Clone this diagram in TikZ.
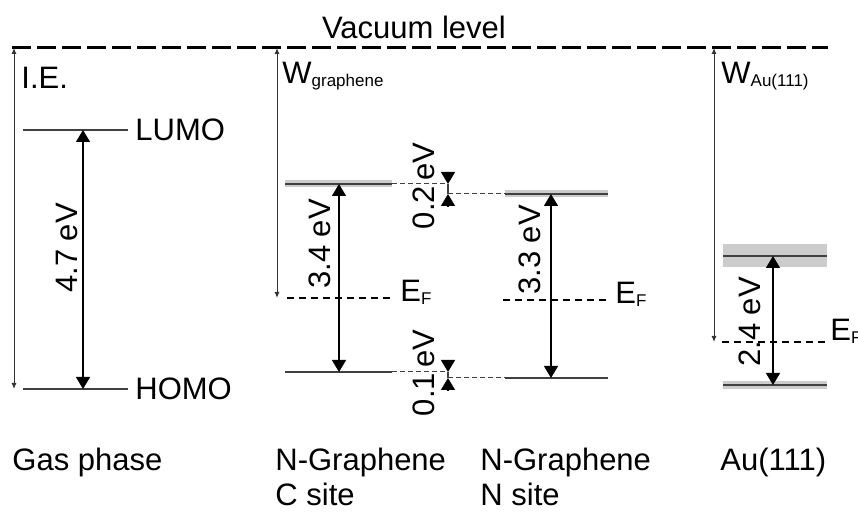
\documentclass[tikz,border=0pt]{standalone}
\usepackage{fontspec}
\setmainfont{Liberation Sans}
\usetikzlibrary{arrows.meta,positioning}
\newcommand{\lowtxt}[1]{\raisebox{-1.5pt}{\fontsize{8.5}{10}\selectfont #1}}

\begin{document}
\begin{tikzpicture}[x=0.5pt,y=-0.5pt,
  lab/.style={font=\fontsize{15.5}{18}\selectfont,inner sep=0pt,anchor=base west},
  rlab/.style={font=\fontsize{15.5}{18}\selectfont,inner sep=0pt,rotate=90},
  lvl/.style={black!75,line width=0.65pt},
  band/.style={black!20,line width=#1},
  fermi/.style={line width=1.3pt,dash pattern=on 3.5pt off 2.5pt},
  ext/.style={black!75,line width=0.5pt,dash pattern=on 2.5pt off 1.5pt},
  gap/.style={{Triangle[length=6pt,width=7pt]}-{Triangle[length=6pt,width=7pt]},line width=0.6pt},
  tipin/.style={-{Triangle[length=6pt,width=7pt]},line width=0.6pt},
  wf/.style={{Latex[length=3pt,width=2.5pt]}-{Latex[length=3pt,width=2.5pt]},black!80,line width=0.5pt}]
\useasboundingbox (0,0) rectangle (858,512);

% vacuum level
\coordinate (vacL) at (12,48); \coordinate (vacR) at (828,48);
\draw[line width=1.5pt,dash pattern=on 9.5pt off 3pt] (vacL) -- (vacR);
\node[lab,anchor=base] (vac) at (414,39) {Vacuum level};

% gas phase
\coordinate (lumoA) at (23,130); \coordinate (lumoB) at (128,130);
\coordinate (homoA) at (23,389); \coordinate (homoB) at (128,389);
\draw[lvl] (lumoA) -- (lumoB); \draw[lvl] (homoA) -- (homoB);
\node[lab] (lumo) at (135,141) {LUMO}; \node[lab] (homo) at (135,400) {HOMO};
\coordinate (gasT) at (83,130); \coordinate (gasB) at (83,389);
\draw[gap] (gasT) -- (gasB); \node[rlab] (gasgap) at (67,248) {4.7 eV};
\coordinate (ieT) at (14,48); \coordinate (ieB) at (14,389);
\draw[wf] (ieT) -- (ieB); \node[lab] (ie) at (21,89) {I.E.};

% N-graphene, C site
\coordinate (clA) at (285,184); \coordinate (clB) at (392,184); \coordinate (clC) at (448,184);
\coordinate (chA) at (285,372); \coordinate (chB) at (392,372); \coordinate (chC) at (448,372);
\coordinate (cfA) at (287,298); \coordinate (cfB) at (390,298);
\draw[band=3.5pt] (clA) -- (clB); \draw[lvl] (clA) -- (clB); \draw[ext] (clB) -- (clC);
\draw[lvl] (chA) -- (chB); \draw[ext] (chB) -- (chC);
\draw[fermi] (cfA) -- (cfB); \node[lab] (cef) at (400,302) {E\lowtxt{F}};
\coordinate (cgT) at (339,184); \coordinate (cgB) at (339,372);
\draw[gap] (cgT) -- (cgB); \node[rlab] (cgap) at (320,244) {3.4 eV};
\coordinate (wgT) at (277,48); \coordinate (wgB) at (277,298);
\draw[wf] (wgT) -- (wgB); \node[lab] (wg) at (282,84) {W\lowtxt{graphene}};

% N-graphene, N site
\coordinate (nlA) at (448,194); \coordinate (nlB) at (505,194); \coordinate (nlC) at (608,194);
\coordinate (nhA) at (448,378); \coordinate (nhB) at (505,378); \coordinate (nhC) at (608,378);
\coordinate (nfA) at (503,300); \coordinate (nfB) at (608,300);
\draw[band=3.5pt] (nlB) -- (nlC); \draw[lvl] (nlB) -- (nlC); \draw[ext] (nlA) -- (nlB);
\draw[lvl] (nhB) -- (nhC); \draw[ext] (nhA) -- (nhB);
\draw[fermi] (nfA) -- (nfB); \node[lab] (nef) at (615,304) {E\lowtxt{F}};
\coordinate (ngT) at (551,194); \coordinate (ngB) at (551,378);
\draw[gap] (ngT) -- (ngB); \node[rlab] (ngap) at (530,250) {3.3 eV};

% shifts between sites
\coordinate (sLt) at (448,172); \coordinate (sLb) at (448,206);
\draw[lvl] (clC) -- (nlA); \draw[tipin] (sLt) -- (clC); \draw[tipin] (sLb) -- (nlA);
\node[rlab] (shl) at (424,186) {0.2\,eV};
\coordinate (sHt) at (448,360); \coordinate (sHb) at (448,390);
\draw[lvl] (chC) -- (nhA); \draw[tipin] (sHt) -- (chC); \draw[tipin] (sHb) -- (nhA);
\node[rlab] (shh) at (424,373) {0.1\,eV};

% Au(111)
\coordinate (auUA) at (723,256); \coordinate (auUB) at (827,256);
\coordinate (auDA) at (723,385); \coordinate (auDB) at (827,385);
\coordinate (afA) at (722,342); \coordinate (afB) at (827,342);
\draw[band=11.5pt] (auUA) -- (auUB); \draw[lvl] (auUA) -- (auUB);
\draw[band=4pt] (auDA) -- (auDB); \draw[lvl] (auDA) -- (auDB);
\draw[fermi] (afA) -- (afB); \node[lab] (aef) at (830,341) {E\lowtxt{F}};
\coordinate (agT) at (773,256); \coordinate (agB) at (773,385);
\draw[gap] (agT) -- (agB); \node[rlab] (agap) at (750,322) {2.4 eV};
\coordinate (waT) at (714,48); \coordinate (waB) at (714,342);
\draw[wf] (waT) -- (waB); \node[lab] (wa) at (721,84) {W\lowtxt{Au(111)}};

% captions
\node[lab] (gas) at (12,471) {Gas phase};
\node[lab] (csite) at (275,471) {N-Graphene}; \node[lab] (csite2) at (275,506) {C site};
\node[lab] (nsite) at (480,471) {N-Graphene}; \node[lab] (nsite2) at (480,506) {N site};
\node[lab] (au) at (720,471) {Au(111)};
\end{tikzpicture}
\end{document}
